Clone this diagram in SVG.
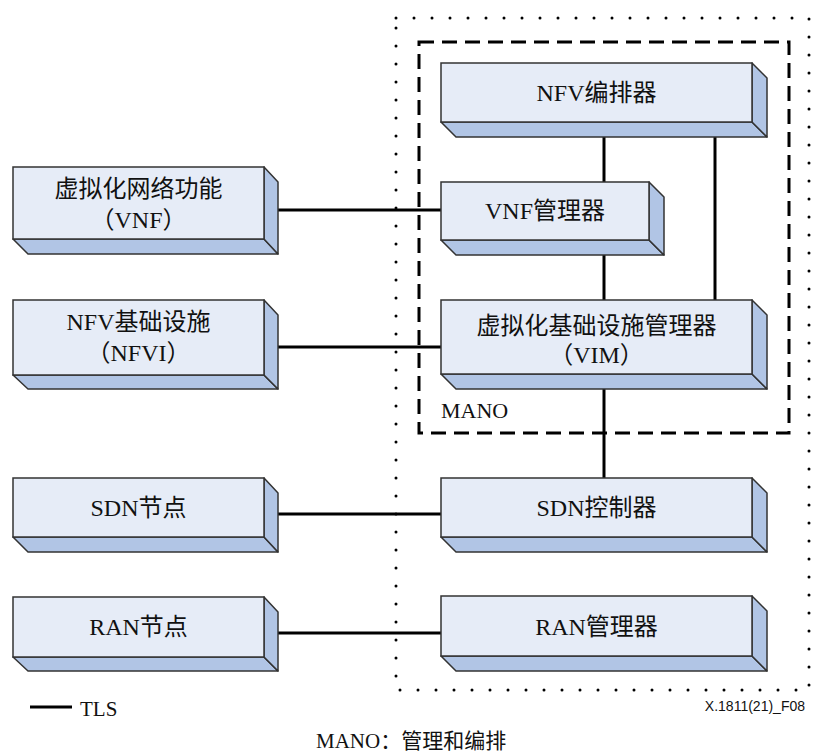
<svg xmlns="http://www.w3.org/2000/svg" width="816" height="753" viewBox="0 0 816 753">
<style>
.front{fill:#E6ECF7;stroke:#333;stroke-width:1.5}
.shade{fill:#B1C5E5;stroke:#333;stroke-width:1.5;stroke-linejoin:round}
.t{font-family:"Liberation Serif","Times New Roman",Times,"Noto Sans CJK SC",serif;font-size:24px;fill:#111;text-anchor:middle}
.s{font-family:"Liberation Serif","Times New Roman",Times,"Noto Sans CJK SC",serif;fill:#111}
.conn line{stroke:#000;stroke-width:3}
</style>
<rect width="816" height="753" fill="#fff"/>
<rect x="396" y="18" width="413" height="672" fill="none" stroke="#000" stroke-width="3" stroke-dasharray="0 18" stroke-linecap="round"/>
<rect x="419" y="42" width="370" height="391" fill="none" stroke="#000" stroke-width="3" stroke-dasharray="15 8"/>
<text class="s" x="441" y="418" font-size="22">MANO</text>
<g id="connectors" class="conn">
<line x1="277" y1="210" x2="441" y2="210"/>
<line x1="277" y1="347" x2="441" y2="347"/>
<line x1="277" y1="514" x2="441" y2="514"/>
<line x1="277" y1="633" x2="441" y2="633"/>
<line x1="604" y1="137" x2="604" y2="182"/>
<line x1="604" y1="255" x2="604" y2="300"/>
<line x1="715" y1="137" x2="715" y2="300"/>
<line x1="604" y1="389" x2="604" y2="478"/>
</g>
<g id="orchestrator">
<path class="shade" d="M441,122 L752,122 L767,137 L456,137 Z"/>
<path class="shade" d="M752,63 L767,78 L767,137 L752,122 Z"/>
<rect class="front" x="441" y="63" width="311" height="59"/>
<text class="t" x="596.5" y="101">NFV编排器</text>
</g>
<g id="vnfm">
<path class="shade" d="M441,240 L649,240 L664,255 L456,255 Z"/>
<path class="shade" d="M649,182 L664,197 L664,255 L649,240 Z"/>
<rect class="front" x="441" y="182" width="208" height="58"/>
<text class="t" x="545" y="219">VNF管理器</text>
</g>
<g id="vim">
<path class="shade" d="M441,374 L752,374 L767,389 L456,389 Z"/>
<path class="shade" d="M752,300 L767,315 L767,389 L752,374 Z"/>
<rect class="front" x="441" y="300" width="311" height="74"/>
<text class="t" x="596.5" y="334">虚拟化基础设施管理器</text>
<text class="t" x="596.5" y="363">（VIM）</text>
</g>
<g id="sdn-controller">
<path class="shade" d="M441,537 L752,537 L767,552 L456,552 Z"/>
<path class="shade" d="M752,478 L767,493 L767,552 L752,537 Z"/>
<rect class="front" x="441" y="478" width="311" height="59"/>
<text class="t" x="596.5" y="516">SDN控制器</text>
</g>
<g id="ran-manager">
<path class="shade" d="M441,656 L752,656 L767,671 L456,671 Z"/>
<path class="shade" d="M752,596 L767,611 L767,671 L752,656 Z"/>
<rect class="front" x="441" y="596" width="311" height="60"/>
<text class="t" x="596.5" y="635">RAN管理器</text>
</g>
<g id="vnf">
<path class="shade" d="M13,239 L264,239 L278,254 L28,254 Z"/>
<path class="shade" d="M264,167 L278,182 L278,254 L264,239 Z"/>
<rect class="front" x="13" y="167" width="251" height="72"/>
<text class="t" x="138.5" y="197">虚拟化网络功能</text>
<text class="t" x="138.5" y="228">（VNF）</text>
</g>
<g id="nfvi">
<path class="shade" d="M13,375 L264,375 L278,389 L28,389 Z"/>
<path class="shade" d="M264,300 L278,315 L278,389 L264,375 Z"/>
<rect class="front" x="13" y="300" width="251" height="75"/>
<text class="t" x="138.5" y="330">NFV基础设施</text>
<text class="t" x="138.5" y="361">（NFVI）</text>
</g>
<g id="sdn-node">
<path class="shade" d="M13,537 L264,537 L278,552 L28,552 Z"/>
<path class="shade" d="M264,478 L278,493 L278,552 L264,537 Z"/>
<rect class="front" x="13" y="478" width="251" height="59"/>
<text class="t" x="138.5" y="516">SDN节点</text>
</g>
<g id="ran-node">
<path class="shade" d="M13,657 L264,657 L278,671 L28,671 Z"/>
<path class="shade" d="M264,597 L278,612 L278,671 L264,657 Z"/>
<rect class="front" x="13" y="597" width="251" height="60"/>
<text class="t" x="138.5" y="635">RAN节点</text>
</g>
<g id="legend">
<line x1="30" y1="707" x2="72" y2="707" stroke="#000" stroke-width="3"/>
<text class="s" x="80" y="716" font-size="21">TLS</text>
<text class="s" x="316" y="748" font-size="21">MANO：管理和编排</text>
<text x="805" y="711" text-anchor="end" font-family="Liberation Sans, Arial, sans-serif" font-size="14" fill="#111">X.1811(21)_F08</text>
</g>
</svg>
